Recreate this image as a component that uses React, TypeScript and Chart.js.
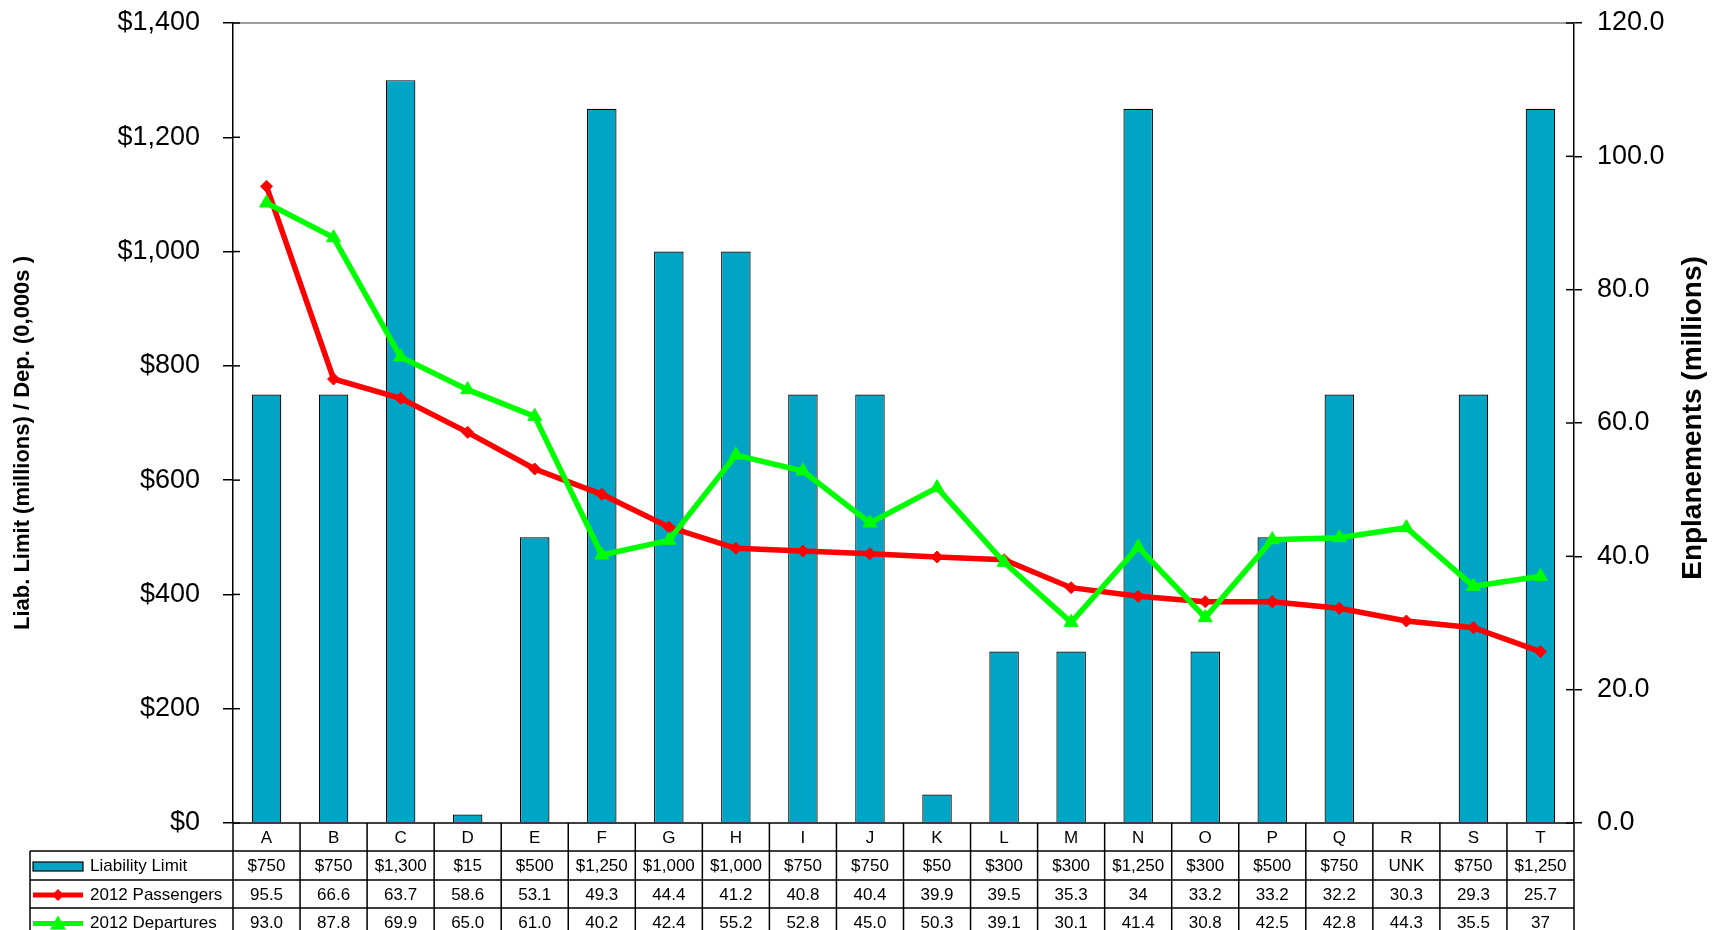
import React, { useEffect, useRef } from 'react';
import { Chart, registerables } from 'chart.js';

Chart.register(...registerables);

// Airlines (anonymised) and their figures
const categories = ['A', 'B', 'C', 'D', 'E', 'F', 'G', 'H', 'I', 'J', 'K', 'L', 'M', 'N', 'O', 'P', 'Q', 'R', 'S', 'T'];

// Liability limit in $ millions (null = unknown)
const liabilityLimit: (number | null)[] = [750, 750, 1300, 15, 500, 1250, 1000, 1000, 750, 750, 50, 300, 300, 1250, 300, 500, 750, null, 750, 1250];

// 2012 enplanements (millions) as printed in the table
const passengersText = ['95.5', '66.6', '63.7', '58.6', '53.1', '49.3', '44.4', '41.2', '40.8', '40.4', '39.9', '39.5', '35.3', '34', '33.2', '33.2', '32.2', '30.3', '29.3', '25.7'];
const departuresText = ['93.0', '87.8', '69.9', '65.0', '61.0', '40.2', '42.4', '55.2', '52.8', '45.0', '50.3', '39.1', '30.1', '41.4', '30.8', '42.5', '42.8', '44.3', '35.5', '37'];

const passengers = passengersText.map(Number);
const departures = departuresText.map(Number);

const seriesNames = ['Liability Limit', '2012 Passengers', '2012 Departures'];

const FONT = "Arial, 'Liberation Sans', sans-serif";
const BAR_COLOR = '#00A5C6';
const RED = '#FF0000';
const GREEN = '#00FF00';

const W = 1718;
const H = 930;
const AREA_LEFT = 233;
const AREA_RIGHT = 1574;
const AREA_TOP = 23;
const AREA_BOTTOM = 823;
const TABLE_LEFT = 30;
const ROW_HEIGHTS = [28, 29, 28, 29];

const formatLimit = (v: number | null) => (v == null ? 'UNK' : '$' + v.toLocaleString('en-US'));

// Draws the data table under the plot, the axis titles and the inner tick marks
const decorations = {
  id: 'decorations',
  afterDraw(chart: Chart) {
    const ctx = chart.ctx;
    const area = chart.chartArea;
    const xs = chart.scales.x;
    const yL = chart.scales.y;
    const yR = chart.scales.y1;
    const n = categories.length;
    const colW = (area.right - area.left) / n;

    ctx.save();

    // top border of the plot
    ctx.strokeStyle = '#808080';
    ctx.lineWidth = 1.5;
    ctx.beginPath();
    ctx.moveTo(area.left, area.top);
    ctx.lineTo(area.right, area.top);
    ctx.stroke();

    // inner parts of the tick marks
    ctx.strokeStyle = '#000';
    ctx.lineWidth = 1.5;
    yL.ticks.forEach((t: any) => {
      const y = yL.getPixelForValue(t.value);
      ctx.beginPath();
      ctx.moveTo(area.left, y);
      ctx.lineTo(area.left + 7, y);
      ctx.stroke();
    });
    yR.ticks.forEach((t: any) => {
      const y = yR.getPixelForValue(t.value);
      ctx.beginPath();
      ctx.moveTo(area.right - 8, y);
      ctx.lineTo(area.right, y);
      ctx.stroke();
    });

    // table grid
    const rowY = [area.bottom];
    ROW_HEIGHTS.forEach((h) => rowY.push(rowY[rowY.length - 1] + h));
    const tableBottom = rowY[rowY.length - 1];

    ctx.strokeStyle = '#000';
    ctx.lineWidth = 1.5;
    ctx.beginPath();
    ctx.moveTo(area.left, rowY[0]);
    ctx.lineTo(area.right, rowY[0]);
    for (let r = 1; r < rowY.length; r++) {
      ctx.moveTo(TABLE_LEFT, rowY[r]);
      ctx.lineTo(area.right, rowY[r]);
    }
    for (let i = 0; i <= n; i++) {
      const x = i < n ? xs.getPixelForValue(i) - colW / 2 : xs.getPixelForValue(n - 1) + colW / 2;
      ctx.moveTo(x, rowY[0]);
      ctx.lineTo(x, tableBottom);
    }
    ctx.moveTo(TABLE_LEFT, rowY[1]);
    ctx.lineTo(TABLE_LEFT, tableBottom);
    ctx.stroke();

    // cell texts
    ctx.fillStyle = '#000';
    ctx.font = `17px ${FONT}`;
    ctx.textAlign = 'center';
    ctx.textBaseline = 'middle';
    const rows: string[][] = [
      categories,
      liabilityLimit.map(formatLimit),
      passengersText,
      departuresText,
    ];
    rows.forEach((cells, r) => {
      const cy = (rowY[r] + rowY[r + 1]) / 2 + 1;
      cells.forEach((txt, i) => {
        ctx.fillText(txt, xs.getPixelForValue(i), cy);
      });
    });

    // legend keys in the first column
    const keyX0 = 33;
    const keyX1 = 83;
    const keyMid = (keyX0 + keyX1) / 2;
    ctx.textAlign = 'left';
    seriesNames.forEach((name, k) => {
      const r = k + 1;
      const cy = (rowY[r] + rowY[r + 1]) / 2 + 1;
      if (k === 0) {
        ctx.fillStyle = BAR_COLOR;
        ctx.fillRect(keyX0, cy - 4.5, keyX1 - keyX0, 9);
        ctx.strokeStyle = '#000';
        ctx.lineWidth = 1.2;
        ctx.strokeRect(keyX0, cy - 4.5, keyX1 - keyX0, 9);
      } else {
        const col = k === 1 ? RED : GREEN;
        ctx.strokeStyle = col;
        ctx.fillStyle = col;
        ctx.lineWidth = 5;
        ctx.beginPath();
        ctx.moveTo(keyX0, cy);
        ctx.lineTo(keyX1, cy);
        ctx.stroke();
        ctx.beginPath();
        if (k === 1) {
          ctx.moveTo(keyMid, cy - 6);
          ctx.lineTo(keyMid + 6, cy);
          ctx.lineTo(keyMid, cy + 6);
          ctx.lineTo(keyMid - 6, cy);
        } else {
          ctx.moveTo(keyMid, cy - 8);
          ctx.lineTo(keyMid + 8, cy + 6);
          ctx.lineTo(keyMid - 8, cy + 6);
        }
        ctx.closePath();
        ctx.fill();
      }
      ctx.fillStyle = '#000';
      ctx.fillText(name, 90, cy);
    });

    // axis titles
    ctx.fillStyle = '#000';
    ctx.textAlign = 'center';
    ctx.textBaseline = 'middle';
    ctx.font = `bold 22px ${FONT}`;
    ctx.save();
    ctx.translate(23, 443);
    ctx.rotate(-Math.PI / 2);
    ctx.fillText('Liab. Limit (millions) / Dep. (0,000s )', 0, 0);
    ctx.restore();

    ctx.font = `bold 28px ${FONT}`;
    ctx.save();
    ctx.translate(1693, 418);
    ctx.rotate(-Math.PI / 2);
    ctx.fillText('Enplanements (millions)', 0, 0);
    ctx.restore();

    ctx.restore();
  },
};

export default function App() {
  const canvasRef = useRef<HTMLCanvasElement | null>(null);

  useEffect(() => {
    const canvas = canvasRef.current;
    if (!canvas) return;
    const chart = new Chart(canvas, {
      type: 'bar',
      data: {
        labels: categories,
        datasets: [
          {
            type: 'line',
            label: seriesNames[2],
            data: departures,
            yAxisID: 'y1',
            borderColor: GREEN,
            backgroundColor: GREEN,
            borderWidth: 5.5,
            pointStyle: 'triangle',
            pointRadius: 8,
            pointBorderWidth: 1,
            tension: 0,
            order: 1,
          },
          {
            type: 'line',
            label: seriesNames[1],
            data: passengers,
            yAxisID: 'y1',
            borderColor: RED,
            backgroundColor: RED,
            borderWidth: 5.5,
            pointStyle: 'rectRot',
            pointRadius: 6,
            pointBorderWidth: 1,
            tension: 0,
            order: 2,
          },
          {
            type: 'bar',
            label: seriesNames[0],
            data: liabilityLimit,
            yAxisID: 'y',
            backgroundColor: BAR_COLOR,
            borderColor: '#000',
            borderWidth: 1.2,
            barPercentage: 0.44,
            categoryPercentage: 1,
            order: 3,
          },
        ],
      },
      options: {
        responsive: false,
        animation: false,
        layout: {
          padding: { left: 0, right: 0, top: AREA_TOP, bottom: H - AREA_BOTTOM },
        },
        plugins: {
          legend: { display: false },
          tooltip: { enabled: false },
          title: { display: false },
        },
        scales: {
          x: {
            display: false,
            offset: true,
          },
          y: {
            position: 'left',
            min: 0,
            max: 1400,
            afterFit: (s: any) => {
              s.width = AREA_LEFT;
              s.paddingTop = 0;
              s.paddingBottom = 0;
            },
            ticks: {
              stepSize: 200,
              padding: 23,
              color: '#000',
              font: { family: FONT, size: 27 },
              callback: (v: any) => '$' + Number(v).toLocaleString('en-US'),
            },
            grid: {
              drawOnChartArea: false,
              drawTicks: true,
              tickLength: 10,
              color: '#000',
              lineWidth: 1.5,
            },
            border: { display: true, color: '#000', width: 1.5 },
          },
          y1: {
            position: 'right',
            min: 0,
            max: 120,
            afterFit: (s: any) => {
              s.width = W - AREA_RIGHT;
              s.paddingTop = 0;
              s.paddingBottom = 0;
            },
            ticks: {
              stepSize: 20,
              padding: 15,
              color: '#000',
              font: { family: FONT, size: 27 },
              callback: (v: any) => Number(v).toFixed(1),
            },
            grid: {
              drawOnChartArea: false,
              drawTicks: true,
              tickLength: 8,
              color: '#000',
              lineWidth: 1.5,
            },
            border: { display: true, color: '#000', width: 1.5 },
          },
        },
      },
      plugins: [decorations],
    });
    return () => chart.destroy();
  }, []);

  return (
    <div style={{ position: 'fixed', left: 0, top: 0, width: W, height: H, background: '#fff' }}>
      <canvas ref={canvasRef} width={W} height={H} style={{ width: W, height: H, display: 'block' }} />
    </div>
  );
}
